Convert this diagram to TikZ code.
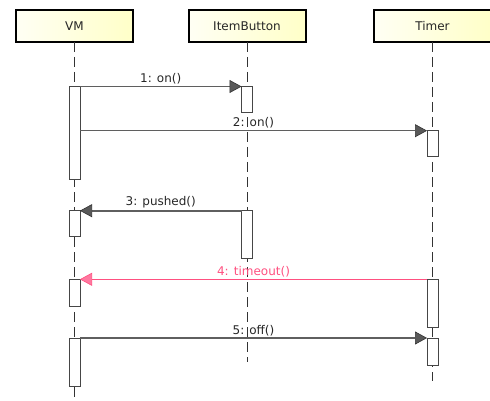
\documentclass[tikz,border=0pt]{standalone}
\usepackage{fontspec}
\setmainfont{DejaVu Sans}
\usetikzlibrary{arrows.meta}
\definecolor{msgline}{RGB}{95,95,95}
\definecolor{pinkline}{RGB}{255,80,128}
\definecolor{pinktip}{RGB}{255,120,160}
\definecolor{headL}{RGB}{255,255,244}
\definecolor{headR}{RGB}{255,255,200}
\definecolor{actborder}{RGB}{70,70,70}
\tikzset{
  head/.style={draw=black, line width=2pt, left color=headL, right color=headR,
    minimum width=117pt, minimum height=32pt, inner sep=0pt, outer sep=0pt,
    font=\fontsize{12}{14}\selectfont, text=black!85},
  act/.style={draw=actborder, line width=1pt, fill=white, minimum width=11pt,
    inner sep=0pt, outer sep=0pt, anchor=north},
  life/.style={draw=black!80, line width=1pt, dash pattern=on 10pt off 5pt},
  msg/.style={draw=msgline, line width=1.6pt,
    -{Triangle[length=12pt,width=13pt,fill=black!65,color=black!80,line width=0.6pt]}},
  msgpink/.style={draw=pinkline, line width=1pt,
    -{Triangle[length=12pt,width=13pt,fill=pinktip,color=pinkline,line width=0.6pt]}},
  lbl/.style={font=\fontsize{12}{14}\selectfont, text=black!85, inner sep=1.5pt, above},
}
\begin{document}
\begin{tikzpicture}[x=1pt,y=-1pt]
\useasboundingbox (0,0) rectangle (490,401);
% header boxes
\node[head] (vm) at (74.5,26) {VM};
\node[head] (ib) at (247,26) {ItemButton};
\node[head] (tm) at (432.5,26) {Timer};
% lifeline ends
\coordinate (vmend) at (74.5,401);
\coordinate (ibend) at (247,362);
\coordinate (tmend) at (432.5,381);
\draw[life] (vm.south) -- (vmend);
\draw[life] (ib.south) -- (ibend);
\draw[life] (tm.south) -- (tmend);
% activations
\node[act, minimum height=93pt] (vm1) at (74.5,86.5) {};
\node[act, minimum height=26pt] (vm2) at (74.5,210.7) {};
\node[act, minimum height=27pt] (vm3) at (74.5,279.3) {};
\node[act, minimum height=48pt] (vm4) at (74.5,338) {};
\node[act, minimum height=26pt] (ib1) at (247,86.5) {};
\node[act, minimum height=48pt] (ib2) at (247,210.7) {};
\node[act, minimum height=26pt] (tm1) at (432.5,130.7) {};
\node[act, minimum height=48pt] (tm2) at (432.5,279.3) {};
\node[act, minimum height=27pt] (tm3) at (432.5,338) {};
% messages
\draw[msg] (vm1.north east) -- node[lbl] {1: on()} (ib1.north west);
\draw[msg] (vm1.east |- tm1.north west) -- node[lbl] {2: on()} (tm1.north west);
\draw[msg] (ib2.north west) -- node[lbl] {3: pushed()} (vm2.north east);
\draw[msgpink] (tm2.north west) -- node[lbl, text=pinkline] {4: timeout()} (vm3.north east);
\draw[msg] (vm4.north east) -- node[lbl] {5: off()} (tm3.north west);
\end{tikzpicture}
\end{document}
